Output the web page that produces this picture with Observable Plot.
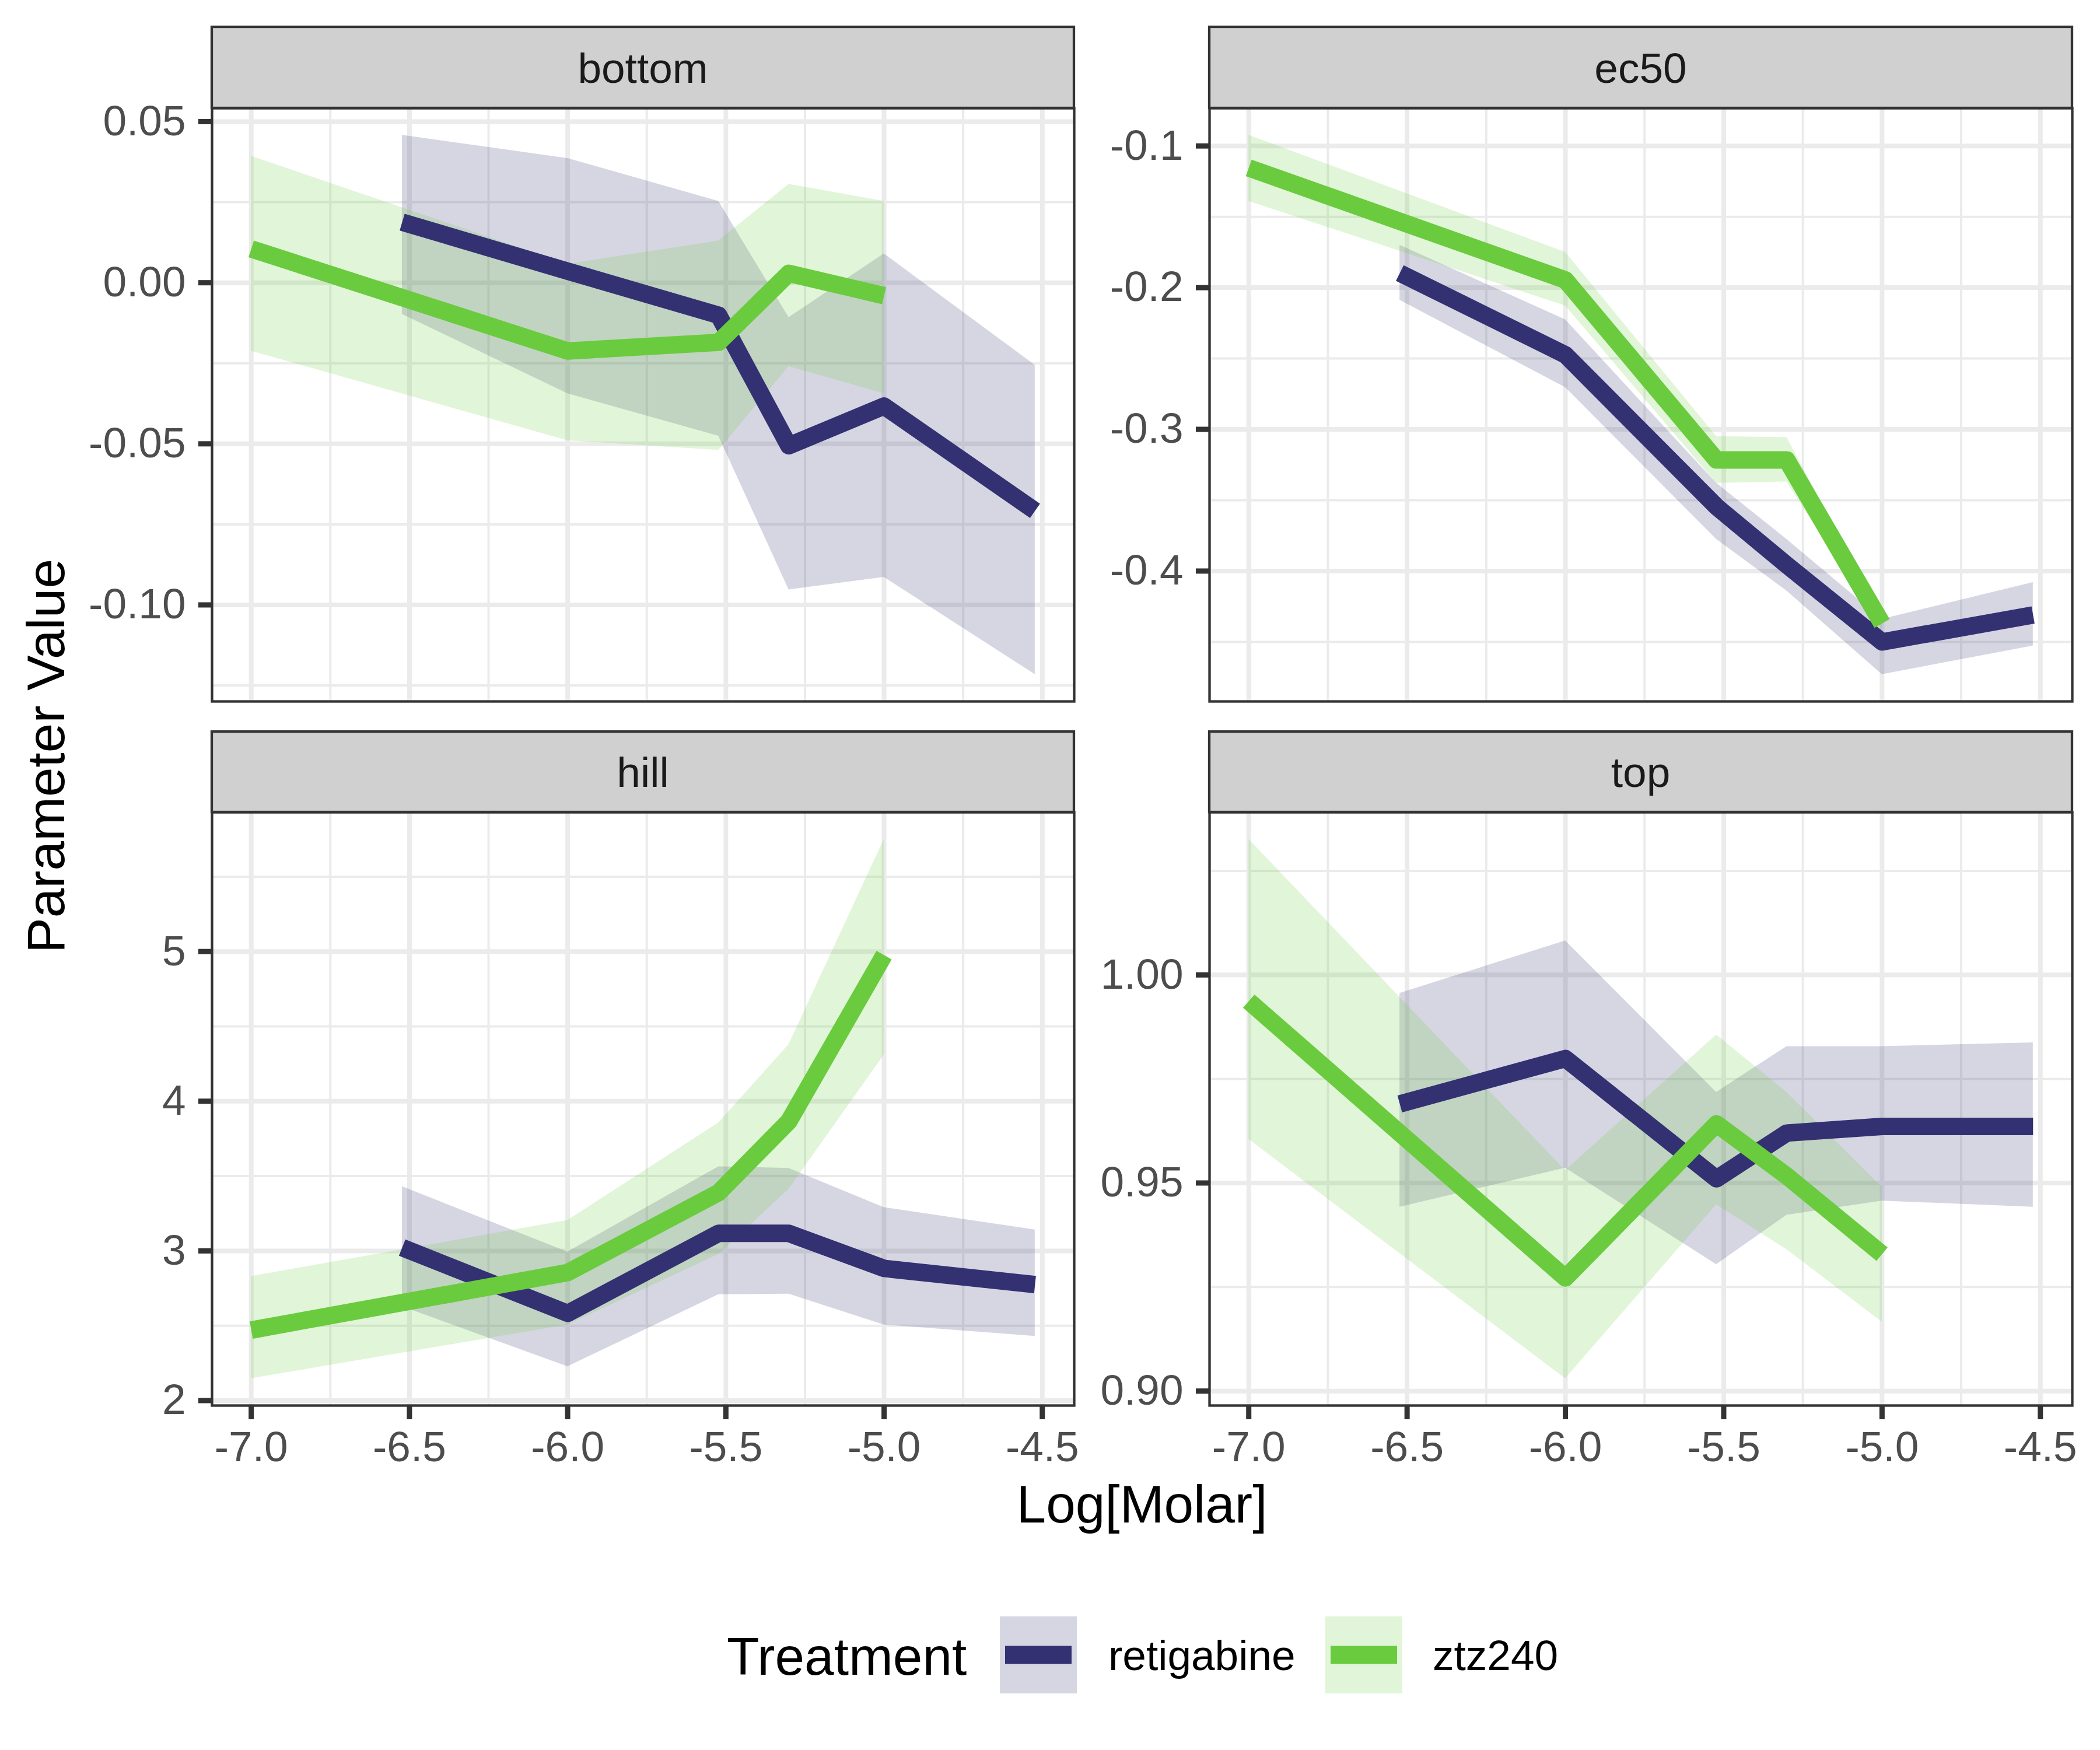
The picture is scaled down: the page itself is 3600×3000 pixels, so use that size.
<!DOCTYPE html>
<html>
<head>
<meta charset="utf-8">
<script src="https://cdn.jsdelivr.net/npm/d3@7"></script>
<script src="https://cdn.jsdelivr.net/npm/@observablehq/plot@0.6"></script>
<style>
  body { margin: 0; background: #fff; }
  #chart { position: relative; width: 3600px; height: 3000px; background: #fff; font-family: "Liberation Sans", Arial, sans-serif; }
  #chart > svg { position: absolute; }
</style>
</head>
<body>
<div id="chart"></div>
<script>
// ---------------- DATA ----------------
const treatments = ["retigabine", "ztz240"];
const treatmentColors = ["#333172", "#6ACB3E"];
const facetNames = ["bottom", "ec50", "hill", "top"];

// Log[Molar] concentrations per treatment
const xRetigabine = [-6.523, -6, -5.523, -5.301, -5, -4.523];
const xZtz240 = [-7, -6, -5.523, -5.301, -5];

// bottom
const bottomRetigabine = [0.0188, 0.0036, -0.0101, -0.0506, -0.0383, -0.0708];
const bottomRetigabineLo = [-0.0098, -0.0344, -0.0476, -0.0953, -0.0914, -0.1216];
const bottomRetigabineHi = [0.0458, 0.0386, 0.0253, -0.0108, 0.0090, -0.0256];
const bottomZtz240 = [0.0105, -0.0212, -0.0185, 0.0029, -0.0040];
const bottomZtz240Lo = [-0.0212, -0.0490, -0.0520, -0.0260, -0.0344];
const bottomZtz240Hi = [0.0393, 0.0058, 0.0130, 0.0306, 0.0253];

// ec50
const ec50Retigabine = [-0.1897, -0.2474, -0.3545, -0.3957, -0.4500, -0.4310];
const ec50RetigabineLo = [-0.2088, -0.2705, -0.3776, -0.4140, -0.4730, -0.4528];
const ec50RetigabineHi = [-0.1700, -0.2226, -0.3380, -0.3776, -0.4340, -0.4080];
const ec50Ztz240 = [-0.1155, -0.1946, -0.3216, -0.3216, -0.4370];
const ec50Ztz240Lo = [-0.1390, -0.2128, -0.3380, -0.3370, -0.4420];
const ec50Ztz240Hi = [-0.0924, -0.1750, -0.3050, -0.3057, -0.4320];

// hill
const hillRetigabine = [3.022, 2.583, 3.117, 3.117, 2.883, 2.775];
const hillRetigabineLo = [2.628, 2.227, 2.708, 2.712, 2.506, 2.430];
const hillRetigabineHi = [3.430, 2.993, 3.563, 3.552, 3.290, 3.141];
const hillZtz240 = [2.471, 2.855, 3.389, 3.866, 4.976];
const hillZtz240Lo = [2.147, 2.506, 2.977, 3.413, 4.310];
const hillZtz240Hi = [2.830, 3.204, 3.856, 4.379, 5.750];

// top
const topRetigabine = [0.9690, 0.9799, 0.9510, 0.9620, 0.9636, 0.9636];
const topRetigabineLo = [0.9442, 0.9536, 0.9304, 0.9423, 0.9457, 0.9442];
const topRetigabineHi = [0.9956, 1.0082, 0.9718, 0.9828, 0.9828, 0.9837];
const topZtz240 = [0.9937, 0.9272, 0.9642, 0.9517, 0.9329];
const topZtz240Lo = [0.9605, 0.9030, 0.9448, 0.9340, 0.9166];
const topZtz240Hi = [1.0326, 0.9530, 0.9856, 0.9718, 0.9490];

// tick values
const xMajorTicks = [-7.0, -6.5, -6.0, -5.5, -5.0, -4.5];
const xMinorTicks = [-6.75, -6.25, -5.75, -5.25, -4.75];
const bottomTicks = [-0.10, -0.05, 0.00, 0.05];
const bottomMinor = [-0.125, -0.075, -0.025, 0.025];
const ec50Ticks = [-0.4, -0.3, -0.2, -0.1];
const ec50Minor = [-0.45, -0.35, -0.25, -0.15];
const hillTicks = [2, 3, 4, 5];
const hillMinor = [2.5, 3.5, 4.5, 5.5];
const topTicks = [0.90, 0.95, 1.00];
const topMinor = [0.925, 0.975, 1.025];

// ---------------- BUILD ----------------
function rows(xs, mid, lo, hi) {
  return xs.map((x, i) => ({x, y: mid[i], lo: lo[i], hi: hi[i]}));
}
const facetData = {
  bottom: {ret: rows(xRetigabine, bottomRetigabine, bottomRetigabineLo, bottomRetigabineHi),
           ztz: rows(xZtz240, bottomZtz240, bottomZtz240Lo, bottomZtz240Hi),
           major: bottomTicks, minor: bottomMinor, fmt: d => d.toFixed(2)},
  ec50: {ret: rows(xRetigabine, ec50Retigabine, ec50RetigabineLo, ec50RetigabineHi),
         ztz: rows(xZtz240, ec50Ztz240, ec50Ztz240Lo, ec50Ztz240Hi),
         major: ec50Ticks, minor: ec50Minor, fmt: d => d.toFixed(1)},
  hill: {ret: rows(xRetigabine, hillRetigabine, hillRetigabineLo, hillRetigabineHi),
         ztz: rows(xZtz240, hillZtz240, hillZtz240Lo, hillZtz240Hi),
         major: hillTicks, minor: hillMinor, fmt: d => d.toFixed(0)},
  top: {ret: rows(xRetigabine, topRetigabine, topRetigabineLo, topRetigabineHi),
        ztz: rows(xZtz240, topZtz240, topZtz240Lo, topZtz240Hi),
        major: topTicks, minor: topMinor, fmt: d => d.toFixed(2)}
};

function expand(lo, hi) { const p = (hi - lo) * 0.05; return [lo - p, hi + p]; }
const allX = xRetigabine.concat(xZtz240);
const xDomain = expand(d3.min(allX), d3.max(allX));

// layout (pixels)
const colLeft = [363, 2073], colRight = [1841, 3552];
const rowTop = [185, 1392], rowBottom = [1202, 2409], stripTop = [46, 1254];
const ML = 200, MR = 12, MT = 12;
const GRID = "#EBEBEB", INK = "#333333", TICKTXT = "#4D4D4D";
const FONT = "'Liberation Sans', Arial, Helvetica, sans-serif";

const chart = document.getElementById("chart");
const [cRet, cZtz] = treatmentColors;

facetNames.forEach((name, k) => {
  const col = k % 2, row = Math.floor(k / 2);
  const f = facetData[name];
  const all = f.ret.concat(f.ztz);
  const yDomain = expand(d3.min(all, d => d.lo), d3.max(all, d => d.hi));
  const left = colLeft[col], right = colRight[col], top = rowTop[row], bottom = rowBottom[row];
  const MB = row === 1 ? 140 : 12;
  const marks = [
    Plot.gridX(xMinorTicks, {stroke: GRID, strokeOpacity: 1, strokeWidth: 4}),
    Plot.gridY(f.minor, {stroke: GRID, strokeOpacity: 1, strokeWidth: 4}),
    Plot.gridX(xMajorTicks, {stroke: GRID, strokeOpacity: 1, strokeWidth: 8}),
    Plot.gridY(f.major, {stroke: GRID, strokeOpacity: 1, strokeWidth: 8}),
    Plot.areaY(f.ret, {x: "x", y1: "lo", y2: "hi", fill: cRet, fillOpacity: 0.2}),
    Plot.areaY(f.ztz, {x: "x", y1: "lo", y2: "hi", fill: cZtz, fillOpacity: 0.2}),
    Plot.line(f.ret, {x: "x", y: "y", stroke: cRet, strokeWidth: 30, strokeLinejoin: "round", strokeLinecap: "butt"}),
    Plot.line(f.ztz, {x: "x", y: "y", stroke: cZtz, strokeWidth: 30, strokeLinejoin: "round", strokeLinecap: "butt"}),
    Plot.frame({stroke: INK, strokeWidth: 4.3}),
    Plot.axisY(f.major, {label: null, tickSize: 23, tickPadding: 22, fontSize: 73, stroke: INK, strokeWidth: 9, fill: TICKTXT, tickFormat: f.fmt})
  ];
  if (row === 1) {
    marks.push(Plot.axisX(xMajorTicks, {label: null, tickSize: 24, tickPadding: 20, fontSize: 73, stroke: INK, strokeWidth: 9, fill: TICKTXT, tickFormat: d => d.toFixed(1)}));
  }
  const svg = Plot.plot({
    width: ML + (right - left) + MR,
    height: MT + (bottom - top) + MB,
    marginLeft: ML, marginRight: MR, marginTop: MT, marginBottom: MB,
    x: {domain: xDomain, axis: null, label: null},
    y: {domain: yDomain, axis: null, label: null},
    style: {fontFamily: FONT, background: "transparent", overflow: "visible", fontSize: "73px"},
    marks
  });
  svg.style.position = "absolute";
  svg.style.left = (left - ML) + "px";
  svg.style.top = (top - MT) + "px";
  chart.appendChild(svg);
});

// overlay: strips, axis titles, legend
const overlay = d3.select(chart).append("svg")
  .attr("width", 3600).attr("height", 3000)
  .style("position", "absolute").style("left", "0px").style("top", "0px")
  .style("pointer-events", "none")
  .attr("font-family", FONT);

facetNames.forEach((name, k) => {
  const col = k % 2, row = Math.floor(k / 2);
  const x0 = colLeft[col], x1 = colRight[col], y0 = stripTop[row], y1 = rowTop[row];
  overlay.append("rect").attr("x", x0).attr("y", y0).attr("width", x1 - x0).attr("height", y1 - y0)
    .attr("fill", "#D0D0D0").attr("stroke", INK).attr("stroke-width", 4.3);
  overlay.append("text").attr("x", (x0 + x1) / 2).attr("y", (y0 + y1) / 2 + 26)
    .attr("text-anchor", "middle").attr("font-size", 73).attr("fill", "#1A1A1A").text(name);
});

overlay.append("text").attr("x", (colLeft[0] + colRight[1]) / 2).attr("y", 2610)
  .attr("text-anchor", "middle").attr("font-size", 91).attr("fill", "#000").text("Log[Molar]");
overlay.append("text").attr("transform", "translate(110,1296) rotate(-90)")
  .attr("text-anchor", "middle").attr("font-size", 91).attr("fill", "#000").text("Parameter Value");

// legend
overlay.append("text").attr("x", 1246).attr("y", 2871).attr("font-size", 91).attr("fill", "#000").text("Treatment");
const keyX = [1714, 2272], labelX = [1900, 2456];
treatments.forEach((t, i) => {
  overlay.append("rect").attr("x", keyX[i]).attr("y", 2771).attr("width", 132).attr("height", 132)
    .attr("fill", treatmentColors[i]).attr("fill-opacity", 0.2);
  overlay.append("line").attr("x1", keyX[i] + 9).attr("x2", keyX[i] + 123).attr("y1", 2837).attr("y2", 2837)
    .attr("stroke", treatmentColors[i]).attr("stroke-width", 31);
  overlay.append("text").attr("x", labelX[i]).attr("y", 2863).attr("font-size", 73).attr("fill", "#000").text(t);
});
</script>
</body>
</html>
